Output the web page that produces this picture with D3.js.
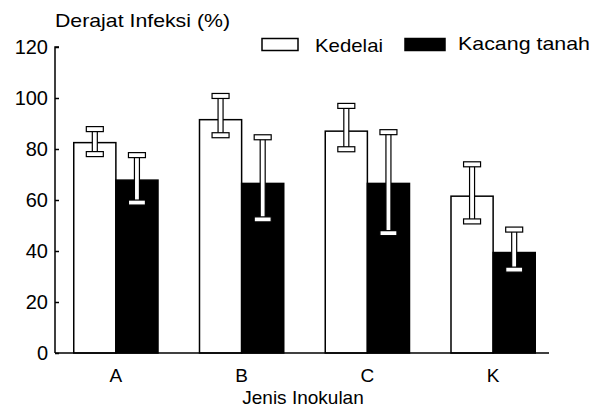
<!DOCTYPE html>
<html><head><meta charset="utf-8">
<script src="https://cdn.jsdelivr.net/npm/d3@7"></script>
<style>body{margin:0;background:#fff}text{font-family:"Liberation Sans",Arial,sans-serif;fill:#000}</style>
</head><body><svg id="c" width="604" height="410"></svg>
<script>
const categories = ["A","B","C","K"];
const seriesNames = ["Kedelai","Kacang tanah"];
const kedelai = [82.5, 91.5, 87, 61.5];
const kedelaiHi = [87.8, 100.8, 96.9, 74];
const kedelaiLo = [78, 85.4, 79.9, 51.6];
const kacang = [67.8, 66.5, 66.5, 39.4];
const kacangHi = [77.6, 84.6, 86.6, 48.4];
const kacangLo = [59, 52.4, 47, 32.7];
const yTicks = [0,20,40,60,80,100,120];

const svg = d3.select("#c");
const x0 = d3.scaleBand().domain(categories).range([53,556]).paddingInner(0.33).paddingOuter(0.165);
const x1 = d3.scaleBand().domain(seriesNames).range([0,x0.bandwidth()]);
const y = d3.scaleLinear().domain([0,120]).range([353,47]);

const data = categories.map((c,i)=>[
  {c, s:"Kedelai", v:kedelai[i], hi:kedelaiHi[i], lo:kedelaiLo[i], fill:"#fff"},
  {c, s:"Kacang tanah", v:kacang[i], hi:kacangHi[i], lo:kacangLo[i], fill:"#000"}
]).flat();

// bars
svg.append("g").selectAll("rect").data(data).join("rect")
  .attr("x", d=>x0(d.c)+x1(d.s)).attr("width", x1.bandwidth())
  .attr("y", d=>y(d.v)).attr("height", d=>y(0)-y(d.v))
  .attr("fill", d=>d.fill).attr("stroke","#000").attr("stroke-width",1.5);

// error bars
const eg = svg.append("g").selectAll("g").data(data).join("g")
  .attr("transform", d=>`translate(${x0(d.c)+x1(d.s)+x1.bandwidth()/2},0)`);
eg.append("rect").attr("x",-2.5).attr("width",5)
  .attr("y", d=>y(d.hi)).attr("height", d=>y(d.lo)-y(d.hi))
  .attr("fill","#fff").attr("stroke",d=>d.fill==="#fff"?"#000":"#000").attr("stroke-width",1.2);
["hi","lo"].forEach(k=>{
  eg.append("rect").attr("x",-8.5).attr("width",17)
    .attr("y", d=>y(d[k])-2.5).attr("height",5)
    .attr("fill","#fff").attr("stroke","#000").attr("stroke-width",1.2);
});

// y axis
const ya = svg.append("g").attr("transform","translate(55,0)")
  .call(d3.axisRight(y).tickValues(yTicks).tickSize(4).tickFormat(""));
ya.select(".domain").attr("d", `M4,${y(120)}H0V${y(0)}`).attr("stroke-width",1.5);
ya.selectAll(".tick line").attr("stroke-width",1.5);
svg.append("g").selectAll("text").data(yTicks).join("text")
  .attr("x",48).attr("y",d=>y(d)+7).attr("text-anchor","end")
  .style("font-size","20px").text(d=>d);

// x axis
svg.append("line").attr("x1",55).attr("x2",549).attr("y1",y(0)).attr("y2",y(0))
  .attr("stroke","#000").attr("stroke-width",1.5);
svg.append("g").selectAll("text").data(categories).join("text")
  .attr("x",d=>x0(d)+x0.bandwidth()/2).attr("y",382).attr("text-anchor","middle")
  .style("font-size","19px").text(d=>d);

svg.append("text").attr("x",303).attr("y",404).attr("text-anchor","middle")
  .style("font-size","19px").text("Jenis Inokulan");
svg.append("text").attr("x",55).attr("y",27)
  .style("font-size","19px").attr("textLength",175).attr("lengthAdjust","spacingAndGlyphs").text("Derajat Infeksi (%)");

// legend
const legX = [262, 405], legTX = [315, 458], legTW=[68,132];
seriesNames.forEach((s,i)=>{
  svg.append("rect").attr("x",legX[i]).attr("y",38.5).attr("width",i?40:36).attr("height",12)
    .attr("fill",i?"#000":"#fff").attr("stroke","#000").attr("stroke-width",1.5);
  svg.append("text").attr("x",legTX[i]).attr("y",i?50:52).style("font-size","19px")
    .attr("textLength",legTW[i]).attr("lengthAdjust","spacingAndGlyphs").text(s);
});
</script></body></html>
